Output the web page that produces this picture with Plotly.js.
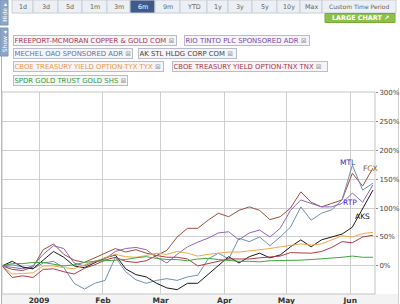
<!DOCTYPE html>
<html>
<head>
<meta charset="utf-8">
<script src="https://cdn.plot.ly/plotly-3.0.1.min.js"></script>
<style>
html,body{margin:0;padding:0;background:#fff;}
#chart{width:400px;height:304px;}
</style>
</head>
<body>
<div id="chart"></div>
<script>
// ---------------- DATA ----------------
const dates = ['2008-12-14','2008-12-19','2008-12-24','2008-12-29','2009-01-03','2009-01-08','2009-01-13','2009-01-18','2009-01-23','2009-01-28','2009-02-02','2009-02-07','2009-02-12','2009-02-17','2009-02-22','2009-02-27','2009-03-04','2009-03-09','2009-03-14','2009-03-19','2009-03-24','2009-03-29','2009-04-03','2009-04-08','2009-04-13','2009-04-18','2009-04-23','2009-04-28','2009-05-03','2009-05-08','2009-05-13','2009-05-18','2009-05-23','2009-05-28','2009-06-02','2009-06-07','2009-06-12'];

const tickers = ['FCX','RTP','MTL','AKS','TYX','TNX','GLD'];
const seriesNames = ['FREEPORT-MCMORAN COPPER &amp; GOLD COM','RIO TINTO PLC SPONSORED ADR','MECHEL OAO SPONSORED ADR','AK STL HLDG CORP COM','CBOE TREASURY YIELD OPTION-TYX TYX','CBOE TREASURY YIELD OPTION-TNX TNX','SPDR GOLD TRUST GOLD SHS'];

const fcx = [0,-6,-8,-2,28,38,20,10,6,14,22,30,24,28,22,18,27,50,65,65,79,91,85,96,102,96,80,85,100,128,110,102,108,114,160,138,169];
const rtp = [0,-3,-5,0,20,35,30,5,0,8,12,25,30,32,28,15,5,20,33,41,48,57,59,45,57,62,50,65,96,114,108,102,102,108,126,110,140];
const mtl = [0,2,-2,-5,5,8,-3,-30,-40,-30,-25,15,-10,-24,-30,-25,-22,-25,-19,-16,12,22,12,48,42,50,35,50,67,102,79,91,97,114,174,131,143];
const aks = [0,8,-2,-5,10,25,15,0,-3,5,14,19,-5,-15,-19,-30,-38,-41,-30,-30,-15,0,16,5,16,22,14,19,33,45,33,45,50,55,67,100,131];
const tyx = [0,-14,-13,-12,0,0,-3,-5,2,8,15,20,16,15,18,22,20,25,22,17,20,22,24,24,26,27,30,33,36,38,36,38,45,52,50,56,58];
const tnx = [0,-20,-17,-20,-6,-5,-10,-14,-4,2,10,15,8,6,9,18,15,15,12,0,4,8,12,12,12,14,15,17,23,23,22,25,32,42,40,50,53];
const gld = [0,4,4,6,6,3,0,2,6,8,9,9,11,14,16,13,11,11,9,12,13,11,9,8,8,7,9,9,9,10,11,12,14,15,17,15,15];

const seriesValues = [fcx, rtp, mtl, aks, tyx, tnx, gld];

const monthTicks = ['2009-01-01','2009-02-01','2009-03-01','2009-04-01','2009-05-01','2009-06-01'];
const monthLabels = ['2009','Feb','Mar','Apr','May','Jun'];
const yTicks = [0,50,100,150,200,250,300];

const periodButtons = ['1d','3d','5d','1m','3m','6m','9m','YTD','1y','3y','5y','10y','Max','Custom Time Period'];
const selectedButton = '6m';

// end-of-line labels: ticker, date, value
const lineLabels = [
  {t:'MTL', d:'2009-05-31', v:178},
  {t:'FCX', d:'2009-06-11', v:169},
  {t:'RTP', d:'2009-06-01', v:109},
  {t:'AKS', d:'2009-06-07', v:86}
];

// ---------------- STYLE ----------------
const lineColors = ['#9b4f3f','#8c68b4','#6f8fb3','#1a1a1a','#f0a848','#b03a48','#3fa63f'];
const legendColors = ['#a83a50','#7a4aa8','#5a78a8','#444444','#e89a48','#a83848','#3a9a3a'];
const labelColors = {MTL:'#2233bb', FCX:'#8a6420', RTP:'#5522dd', AKS:'#111111'};
// legend boxes [left, right, centerY] in pixels
const legendBoxes = [[13,177,40],[184,310,40],[13,133,53.5],[138,237,53.5],[13,164,67],[172,328,67],[13,128,80.5]];
const buttonEdges = [12,33,58,82,107,130,155,180,207,228,252,277,300,322,396];

const L=2, R=25, T=92, B=10, W=400, H=304;
const PW = W-L-R, PH = H-T-B;
const px = x => (x-L)/PW;
const py = y => (H-B-y)/PH;

const traces = tickers.map((tk,i)=>({
  type:'scatter', mode:'lines', name:tk,
  x: dates, y: seriesValues[i],
  line:{color:lineColors[i], width:1},
  hoverinfo:'skip'
}));

const shapes = [];
const annotations = [];
function box(x0,x1,y0,y1,fill,lc){
  shapes.push({type:'rect', xref:'paper', yref:'paper', layer:'below', x0:px(x0), x1:px(x1), y0:py(y1), y1:py(y0), fillcolor:fill, line:{color:lc, width: lc?1:0}});
}
function label(x,y,text,font,extra){
  annotations.push(Object.assign({xref:'paper', yref:'paper', x:px(x), y:py(y), xanchor:'center', yanchor:'middle',
    text:text, showarrow:false, borderpad:0, font:font}, extra||{}));
}

// bottom label band
box(2,399,294,304,'#f3f3f3',null);
// plot border
shapes.push({type:'rect', xref:'paper', yref:'paper', x0:0, x1:1, y0:0, y1:1, line:{color:'#c4c4c4', width:1}, fillcolor:'rgba(0,0,0,0)'});
// right outer border
shapes.push({type:'line', xref:'paper', yref:'paper', layer:'below', x0:px(398.5), x1:px(398.5), y0:py(88), y1:py(304), line:{color:'#d0d0d0', width:1}});
// left blue edge line
shapes.push({type:'line', xref:'paper', yref:'paper', layer:'below', x0:px(1.5), x1:px(1.5), y0:py(55), y1:py(304), line:{color:'#9fb3cf', width:1}});

// Hide / Show strips
box(0,8,0,25,'#8da6c8','#7d96b8');
box(0,8,28,56,'#8da6c8','#7d96b8');
label(4.2,12.5,'Hide ▸',{family:'DejaVu Sans', size:6, color:'#ffffff'},{textangle:-90});
label(4.2,42,'Show ◂',{family:'DejaVu Sans', size:6, color:'#ffffff'},{textangle:-90});

// period buttons
periodButtons.forEach((b,i)=>{
  const x0=buttonEdges[i], x1=buttonEdges[i+1];
  const sel = b===selectedButton;
  box(x0,x1,0,13, sel ? '#3f5b8c' : '#eceff3', '#c9ced6');
  label((x0+x1)/2, 6.5, b, {family:'DejaVu Sans', size: b.length>5 ? 6 : 6.4, color: sel ? '#ffffff' : '#666666'});
});

// large chart button
box(325,395,13.5,22.5,'#8dc049','#78aa3a');
label(360,18,'<b>LARGE CHART ↗</b>',{family:'DejaVu Sans', size:6.4, color:'#ffffff'});

// legend boxes
seriesNames.forEach((n,i)=>{
  const [l,r,cy] = legendBoxes[i];
  annotations.push({xref:'paper', yref:'paper', x:px(l), y:py(cy), xanchor:'left', yanchor:'middle',
    text: n + ' <span style="color:#a0a0a0">⊠</span>', showarrow:false, align:'left',
    width: r-l-3, height:8, borderpad:0.5, borderwidth:1, bordercolor:'#b9bccb', bgcolor:'#f5f5f9',
    font:{family:'DejaVu Sans', size:6.9, color:legendColors[i]}});
});

// line labels
lineLabels.forEach(o=>{
  annotations.push({xref:'x', yref:'y', x:o.d, y:o.v, xanchor:'center', yanchor:'middle', text:o.t, showarrow:false,
    font:{family:'DejaVu Sans', size:7.5, color:labelColors[o.t]}});
});

const layout = {
  width:W, height:H,
  margin:{l:L, r:R, t:T, b:B, pad:0},
  paper_bgcolor:'#ffffff', plot_bgcolor:'#ffffff',
  showlegend:false,
  xaxis:{type:'date', range:['2008-12-14','2009-06-13'], tickvals:monthTicks, ticktext:monthLabels,
    showgrid:true, gridcolor:'#cfcfcf', gridwidth:1, zeroline:false, ticks:'', showline:false,
    tickfont:{family:'DejaVu Sans', size:7.5, color:'#333333', weight:'bold'}, fixedrange:true},
  yaxis:{side:'right', range:[-48.5,300.5], tickvals:yTicks, ticktext:yTicks.map(v=>v+'%'),
    showgrid:true, gridcolor:'#cfcfcf', gridwidth:1, zeroline:false, ticks:'outside', ticklen:2, tickcolor:'#888888',
    tickfont:{family:'DejaVu Sans', size:7, color:'#444444'}, showline:false, fixedrange:true},
  shapes:shapes, annotations:annotations
};

Plotly.newPlot('chart', traces, layout, {displayModeBar:false, staticPlot:true});
</script>
</body>
</html>
